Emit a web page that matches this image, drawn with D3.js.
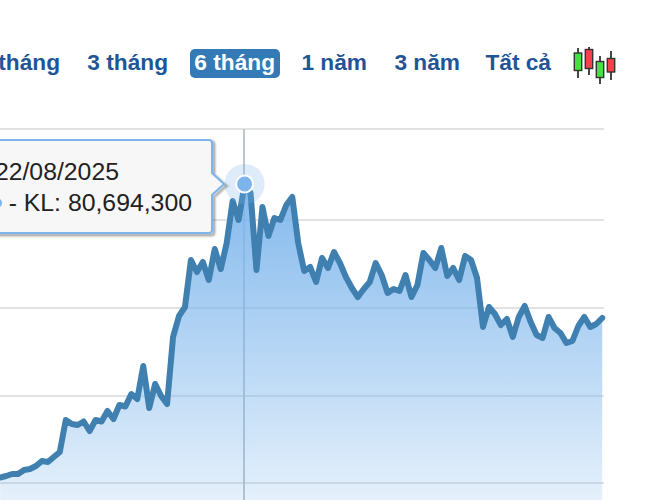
<!DOCTYPE html>
<html>
<head>
    <meta charset="utf-8">
    <script src="https://d3js.org/d3.v7.min.js"></script>
    <style type="text/css">
        html, body { margin: 0; padding: 0; background: #fff; overflow: hidden; }
        svg { display: block; font-family: "Liberation Sans", Arial, sans-serif; }
        line.grid { stroke: #e2e2e2; stroke-width: 2; }
        line.cross { stroke: #bcc6cf; stroke-width: 2; }
        text.range { font-size: 22.7px; font-weight: bold; fill: #1f5596; }
        text.tip { font-size: 24.8px; fill: #222; }
    </style>
</head>
<body>
    <svg id="chart" width="645" height="500"></svg>

    <script>
        // no axis labels in the picture, so values are in chart height units
        var series = [
            2.25, 2.4, 2.6, 2.6, 3.0, 3.1, 3.4, 3.9, 3.8, 4.3,
            4.8, 8.0, 7.6, 7.5, 7.85, 6.9, 8.0, 7.85, 8.9, 8.1,
            9.5, 9.35, 10.6, 10.1, 13.4, 9.2, 11.6, 10.4, 9.6, 16.3,
            18.4, 19.3, 24.0, 22.8, 23.8, 22.0, 25.1, 23.1, 25.7, 29.9,
            28.0, 31.6, 30.7, 23.0, 29.3, 26.4, 28.2, 28.0, 29.5, 30.3,
            25.7, 22.9, 23.3, 21.8, 24.2, 23.2, 24.8, 23.7, 22.3, 21.2,
            20.3, 21.1, 21.8, 23.7, 22.5, 20.7, 21.1, 20.9, 22.5, 20.3,
            21.5, 24.7, 24.0, 23.2, 25.2, 22.4, 23.2, 22.0, 24.4, 24.0,
            22.2, 17.3, 19.3, 18.6, 17.5, 18.1, 16.3, 18.3, 19.4, 17.8,
            16.5, 16.2, 18.3, 17.2, 16.7, 15.7, 15.9, 17.4, 18.3, 17.3,
            17.6, 18.2
        ];
        var gridValues = [1.7, 10.4, 19.2, 28, 37.1];
        var rangeLabels = ["1 tháng", "3 tháng", "6 tháng", "1 năm", "3 năm", "Tất cả"];
        var rangeRight = [60, 168, 275, 367, 460, 551];
        var activeRange = "6 tháng";
        var hoverIndex = 41;
        var hoverDate = "22/08/2025";
        var hoverText = "- KL: 80,694,300";
        var candleOpen = [70.5, 49.5, 77.5, 58.5];
        var candleClose = [53, 68.5, 61.5, 72];
        var candleHigh = [48, 47, 56, 51];
        var candleLow = [78, 75, 84, 80];
        var candleColor = ["#44e044", "#f8404a", "#44e044", "#f8404a"];

        var Width = 645, Height = 500;
        var Right = 604;
        var svg = d3.select("#chart");

        var x = d3.scaleLinear().domain([0, series.length - 1]).range([0.2, 602.2]);
        var y = d3.scaleLinear().domain([0, 50]).range([Height, 0]);

        var defs = svg.append("defs");

        var grad = defs.append("linearGradient").attr("id", "fade")
            .attr("x1", 0).attr("y1", 0).attr("x2", 0).attr("y2", 1);
        grad.append("stop").attr("offset", 0).attr("stop-color", "#7cb5ec").attr("stop-opacity", 0.95);
        grad.append("stop").attr("offset", 1).attr("stop-color", "#7cb5ec").attr("stop-opacity", 0.2);

        svg.selectAll("line.grid")
            .data(gridValues)
            .enter()
            .append("line").classed("grid", true)
                .attr("x1", 0)
                .attr("x2", Right)
                .attr("y1", function(d){ return y(d); })
                .attr("y2", function(d){ return y(d); });

        svg.append("line").classed("cross", true)
            .attr("x1", 244).attr("x2", 244)
            .attr("y1", y(gridValues[gridValues.length - 1]))
            .attr("y2", Height);

        var area = d3.area()
            .x(function(d, i){ return x(i); })
            .y0(Height)
            .y1(function(d){ return y(d); });

        var line = d3.line()
            .x(function(d, i){ return x(i); })
            .y(function(d){ return y(d); });

        svg.append("path").datum(series)
            .attr("d", area)
            .attr("fill", "url(#fade)");

        svg.append("path").datum(series)
            .attr("d", line)
            .attr("fill", "none")
            .attr("stroke", "#3f80b1")
            .attr("stroke-width", 6)
            .attr("stroke-linejoin", "round")
            .attr("stroke-linecap", "round");

        // hovered point
        var hx = x(hoverIndex), hy = y(series[hoverIndex]);
        svg.append("circle").attr("cx", hx).attr("cy", hy).attr("r", 20)
            .attr("fill", "#7cb5ec").attr("fill-opacity", 0.25);
        svg.append("circle").attr("cx", hx).attr("cy", hy).attr("r", 8.5)
            .attr("fill", "#7cb5ec").attr("stroke", "#fff").attr("stroke-width", 2);

        // tooltip
        var tipPath = "M-10 140 H209 Q212 140 212 143 V173 L224 184 L212 195 V230 Q212 233 209 233 H-10 Z";
        [[6, 0.05], [4, 0.1], [2, 0.15]].forEach(function(s){
            svg.append("path").attr("d", tipPath)
                .attr("transform", "translate(2 2)")
                .attr("fill", "none")
                .attr("stroke", "#000")
                .attr("stroke-opacity", s[1])
                .attr("stroke-width", s[0]);
        });
        svg.append("path").attr("d", tipPath)
            .attr("fill", "#f7f7f7")
            .attr("stroke", "#7cb5ec")
            .attr("stroke-width", 2);

        svg.append("text").classed("tip", true)
            .attr("x", 119).attr("y", 180)
            .attr("text-anchor", "end")
            .text(hoverDate);
        svg.append("circle").attr("cx", -3).attr("cy", 203).attr("r", 5).attr("fill", "#7cb5ec");
        svg.append("text").classed("tip", true)
            .attr("x", 192).attr("y", 211)
            .attr("text-anchor", "end")
            .text(hoverText);

        // range buttons
        var activeIdx = rangeLabels.indexOf(activeRange);
        svg.append("rect")
            .attr("x", 190).attr("y", 49)
            .attr("width", 90).attr("height", 29)
            .attr("rx", 5)
            .attr("fill", "#337ab7");

        svg.selectAll("text.range")
            .data(rangeLabels)
            .enter()
            .append("text").classed("range", true)
                .attr("x", function(d, i){ return rangeRight[i]; })
                .attr("y", 70)
                .attr("text-anchor", "end")
                .style("fill", function(d, i){ return i == activeIdx ? "#fff" : null; })
                .text(function(d){ return d; });

        // candlestick icon
        var iconX = d3.scaleLinear().domain([0, 3]).range([578, 611]);
        var icon = svg.append("g");
        candleColor.forEach(function(c, i){
            icon.append("line")
                .attr("x1", iconX(i)).attr("x2", iconX(i))
                .attr("y1", candleHigh[i]).attr("y2", candleLow[i])
                .attr("stroke", "#333").attr("stroke-width", 1.8);
            icon.append("rect")
                .attr("x", iconX(i) - 3.7)
                .attr("y", Math.min(candleOpen[i], candleClose[i]))
                .attr("width", 7.4)
                .attr("height", Math.abs(candleOpen[i] - candleClose[i]))
                .attr("fill", c)
                .attr("stroke", "#333").attr("stroke-width", 1.4);
        });
    </script>
</body>
</html>
